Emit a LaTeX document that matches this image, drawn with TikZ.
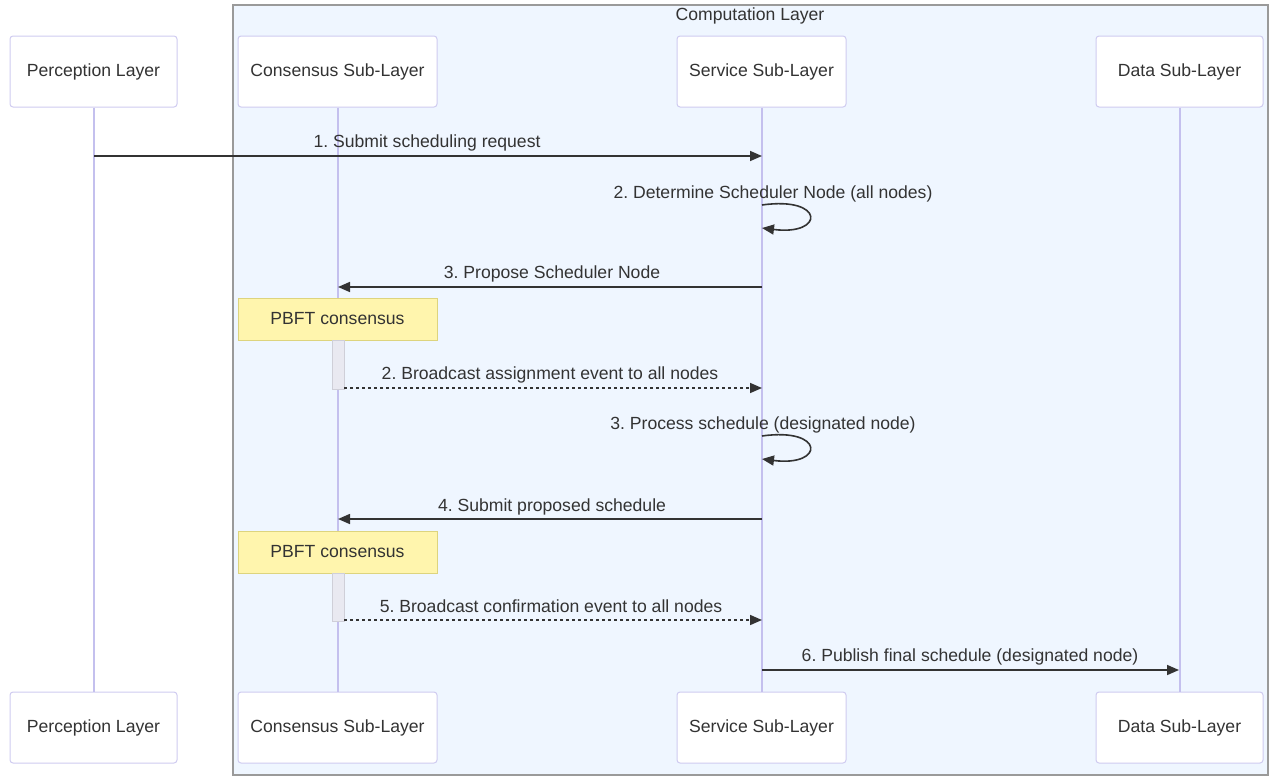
\documentclass[tikz,border=0pt]{standalone}
\usepackage{fontspec}
\setmainfont{Liberation Sans}
\usetikzlibrary{arrows.meta}
\definecolor{grpfill}{HTML}{EFF6FF}
\definecolor{grpborder}{HTML}{9A9A9A}
\definecolor{actborder}{HTML}{CFCBF0}
\definecolor{lifecol}{HTML}{C4C0EE}
\definecolor{txt}{HTML}{333333}
\definecolor{notefill}{HTML}{FFF5AD}
\definecolor{noteborder}{HTML}{DDD47E}
\definecolor{actfill}{HTML}{E9E9F1}
\definecolor{actbord}{HTML}{CFCFD8}
\tikzset{
  actorbox/.style={draw=actborder, fill=white, rounded corners=3pt, line width=1pt,
    minimum height=71pt, inner sep=0pt, text=txt},
  lifeline/.style={draw=lifecol, line width=2pt},
  msg/.style={draw=txt, line width=1.6pt, -{Triangle[length=12pt,width=10pt]}},
  dmsg/.style={msg, dash pattern=on 3pt off 3pt},
  mlabel/.style={text=txt, inner sep=0pt, anchor=base},
  notebox/.style={draw=noteborder, fill=notefill, line width=1pt, minimum width=199pt,
    minimum height=42pt, inner sep=0pt, text=txt},
  actbar/.style={draw=actbord, fill=actfill, line width=1pt, minimum width=12pt, inner sep=0pt}
}
\frenchspacing
\begin{document}
\begin{tikzpicture}[x=1pt,y=-1pt,font=\fontsize{17.6}{21}\selectfont]
\useasboundingbox (0,0) rectangle (1276,779);
% group box
\node[draw=grpborder, fill=grpfill, line width=1.3pt, minimum width=1035pt, minimum height=770pt,
  inner sep=0pt] (grp) at (750.5,390) {};
\node[text=txt, inner sep=0pt] (grptitle) at (750,16) {Computation Layer};
% actors top
\node[actorbox, minimum width=167pt] (pt) at (93.5,71.5) {Perception Layer};
\node[actorbox, minimum width=199pt] (ct) at (337.5,71.5) {Consensus Sub-Layer};
\node[actorbox, minimum width=169pt] (st) at (761.5,71.5) {Service Sub-Layer};
\node[actorbox, minimum width=167pt] (dt) at (1179.5,71.5) {Data Sub-Layer};
% actors bottom
\node[actorbox, minimum width=167pt] (pb) at (93.5,727.5) {Perception Layer};
\node[actorbox, minimum width=199pt] (cb) at (337.5,727.5) {Consensus Sub-Layer};
\node[actorbox, minimum width=169pt] (sb) at (761.5,727.5) {Service Sub-Layer};
\node[actorbox, minimum width=167pt] (db) at (1179.5,727.5) {Data Sub-Layer};
% lifelines
\draw[lifeline] (pt.south) -- (pb.north);
\draw[lifeline] (ct.south) -- (cb.north);
\draw[lifeline] (st.south) -- (sb.north);
\draw[lifeline] (dt.south) -- (db.north);
% notes and activations
\node[notebox] (n1) at (337.5,319) {PBFT consensus};
\node[actbar, minimum height=49pt] (a1) at (338,364.5) {};
\node[notebox] (n2) at (337.5,552) {PBFT consensus};
\node[actbar, minimum height=48pt] (a2) at (338,597) {};
% message coordinates
\coordinate (m1a) at (94,156);  \coordinate (m1b) at (762,156);
\coordinate (s1a) at (762,205); \coordinate (s1b) at (762,228);
\coordinate (m3a) at (762,287); \coordinate (m3b) at (338,287);
\coordinate (m4a) at (344,388); \coordinate (m4b) at (762,388);
\coordinate (s2a) at (762,436); \coordinate (s2b) at (762,459);
\coordinate (m6a) at (762,519); \coordinate (m6b) at (338,519);
\coordinate (m7a) at (344,620); \coordinate (m7b) at (762,620);
\coordinate (m8a) at (762,670); \coordinate (m8b) at (1179,670);
% messages
\draw[msg] (m1a) -- (m1b);
\node[mlabel] (l1) at (427,147) {1. Submit scheduling request};
\draw[msg] (s1a) .. controls (825,196) and (825,236) .. (s1b);
\node[mlabel] (l2) at (773,198) {2. Determine Scheduler Node (all nodes)};
\draw[msg] (m3a) -- (m3b);
\node[mlabel] (l3) at (552,278) {3. Propose Scheduler Node};
\draw[dmsg] (m4a) -- (m4b);
\node[mlabel] (l4) at (550,379) {2. Broadcast assignment event to all nodes};
\draw[msg] (s2a) .. controls (825,427) and (825,467) .. (s2b);
\node[mlabel] (l5) at (763,429) {3. Process schedule (designated node)};
\draw[msg] (m6a) -- (m6b);
\node[mlabel] (l6) at (552,511) {4. Submit proposed schedule};
\draw[dmsg] (m7a) -- (m7b);
\node[mlabel] (l7) at (551,612) {5. Broadcast confirmation event to all nodes};
\draw[msg] (m8a) -- (m8b);
\node[mlabel] (l8) at (970,661) {6. Publish final schedule (designated node)};
\end{tikzpicture}
\end{document}
